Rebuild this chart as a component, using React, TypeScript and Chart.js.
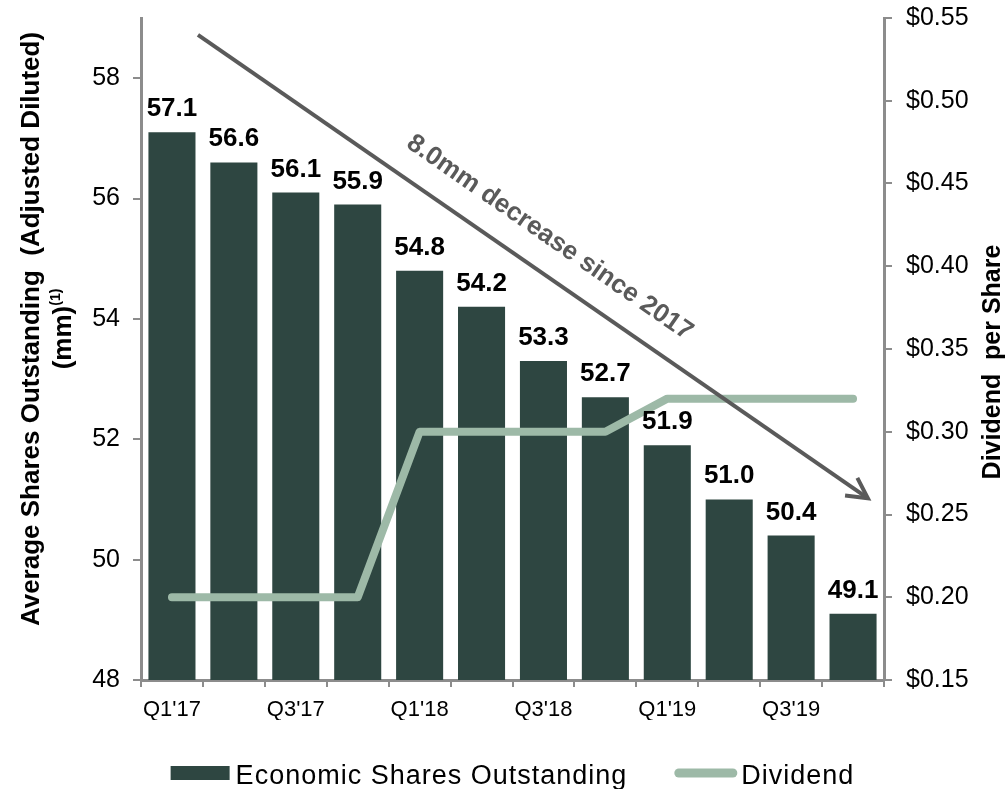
import React, { useEffect, useRef } from 'react';
import { Chart, registerables } from 'chart.js';

Chart.register(...registerables);

// ---------- data ----------
const QUARTERS = ["Q1'17", "Q2'17", "Q3'17", "Q4'17", "Q1'18", "Q2'18", "Q3'18", "Q4'18", "Q1'19", "Q2'19", "Q3'19", "Q4'19"];
const SHARES = [57.1, 56.6, 56.1, 55.9, 54.8, 54.2, 53.3, 52.7, 51.9, 51.0, 50.4, 49.1];
const DIVIDEND = [0.20, 0.20, 0.20, 0.20, 0.30, 0.30, 0.30, 0.30, 0.32, 0.32, 0.32, 0.32];
const SHARES_LABEL = 'Economic Shares Outstanding';
const DIVIDEND_LABEL = 'Dividend';
const SHARES_TICKS = { min: 48, max: 59, step: 2 };
const DIVIDEND_TICKS = { min: 0.15, max: 0.55, step: 0.05 };
const LEFT_TITLE = 'Average Shares Outstanding  (Adjusted Diluted)';
const LEFT_TITLE_2 = '(mm)';
const LEFT_TITLE_SUP = '(1)';
const RIGHT_TITLE = 'Dividend  per Share';
// arrow annotation in data units: [category index, shares value]
const ARROW_FROM = [0.42, 58.72];
const ARROW_TO = [11.24, 51.02];
const ARROW_LABEL = '8.0mm decrease since 2017';
const ARROW_LABEL_AT = [6.1, 55.35];

// ---------- styles ----------
const FONT = '"Liberation Sans", Arial, Helvetica, sans-serif';
const BAR_COLOR = '#2E4641';
const LINE_COLOR = '#9DB9A7';
const AXIS_COLOR = '#8C8C8C';
const ARROW_COLOR = '#5A5A5A';

const barLabelPlugin = {
  id: 'barLabels',
  afterDatasetsDraw(chart: any) {
    const ctx = chart.ctx;
    const meta = chart.getDatasetMeta(0);
    ctx.save();
    ctx.font = `bold 26px ${FONT}`;
    ctx.fillStyle = '#000';
    ctx.textAlign = 'center';
    ctx.textBaseline = 'alphabetic';
    meta.data.forEach((el: any, i: number) => {
      ctx.fillText(SHARES[i].toFixed(1), el.x, el.y - 16);
    });
    ctx.restore();
  },
};

const arrowPlugin = {
  id: 'arrowNote',
  afterDatasetsDraw(chart: any) {
    const ctx = chart.ctx;
    const xs = chart.scales.x;
    const ys = chart.scales.y;
    const x1 = xs.getPixelForValue(ARROW_FROM[0]);
    const y1 = ys.getPixelForValue(ARROW_FROM[1]);
    const x2 = xs.getPixelForValue(ARROW_TO[0]);
    const y2 = ys.getPixelForValue(ARROW_TO[1]);
    const ang = Math.atan2(y2 - y1, x2 - x1);
    ctx.save();
    ctx.strokeStyle = ARROW_COLOR;
    ctx.lineWidth = 4;
    ctx.lineCap = 'butt';
    ctx.beginPath();
    ctx.moveTo(x1, y1);
    ctx.lineTo(x2 - Math.cos(ang) * 2, y2 - Math.sin(ang) * 2);
    ctx.stroke();
    const head = 23;
    const spread = (28 * Math.PI) / 180;
    ctx.lineJoin = 'miter';
    ctx.beginPath();
    ctx.moveTo(x2 - head * Math.cos(ang - spread), y2 - head * Math.sin(ang - spread));
    ctx.lineTo(x2, y2);
    ctx.lineTo(x2 - head * Math.cos(ang + spread), y2 - head * Math.sin(ang + spread));
    ctx.stroke();
    const lx = xs.getPixelForValue(ARROW_LABEL_AT[0]);
    const ly = ys.getPixelForValue(ARROW_LABEL_AT[1]);
    ctx.translate(lx, ly);
    ctx.rotate(ang);
    ctx.font = `bold 26px ${FONT}`;
    ctx.fillStyle = ARROW_COLOR;
    ctx.textAlign = 'center';
    ctx.textBaseline = 'middle';
    ctx.fillText(ARROW_LABEL, 0, 0);
    ctx.restore();
  },
};

const decorPlugin = {
  id: 'decor',
  afterDraw(chart: any) {
    const ctx = chart.ctx;
    const area = chart.chartArea;
    const midY = (area.top + area.bottom) / 2;
    ctx.save();
    // left axis title
    ctx.fillStyle = '#000';
    ctx.textBaseline = 'middle';
    ctx.textAlign = 'center';
    ctx.font = `bold 26px ${FONT}`;
    ctx.save();
    ctx.translate(32, midY - 20);
    ctx.rotate(-Math.PI / 2);
    ctx.fillText(LEFT_TITLE, 0, 0);
    ctx.restore();
    ctx.save();
    ctx.translate(64, midY - 20);
    ctx.rotate(-Math.PI / 2);
    ctx.font = `bold 26px ${FONT}`;
    const w1 = ctx.measureText(LEFT_TITLE_2).width;
    ctx.font = `bold 14px ${FONT}`;
    const w2 = ctx.measureText(LEFT_TITLE_SUP).width;
    const start = -(w1 + w2) / 2;
    ctx.textAlign = 'left';
    ctx.font = `bold 26px ${FONT}`;
    ctx.fillText(LEFT_TITLE_2, start, 0);
    ctx.font = `bold 14px ${FONT}`;
    ctx.fillText(LEFT_TITLE_SUP, start + w1, -8);
    ctx.restore();
    // right axis title
    ctx.save();
    ctx.translate(993, midY + 13);
    ctx.rotate(-Math.PI / 2);
    ctx.font = `bold 25px ${FONT}`;
    ctx.textAlign = 'center';
    ctx.fillText(RIGHT_TITLE, 0, 0);
    ctx.restore();

    // legend
    const ds = chart.data.datasets;
    ctx.font = `27px ${FONT}`;
    (ctx as any).letterSpacing = '1px';
    const t1 = ctx.measureText(ds[0].label).width;
    const t2 = ctx.measureText(ds[1].label).width;
    const boxW = 59, gap1 = 6, lineW = 63, gap2 = 4, itemGap = 47;
    const total = boxW + gap1 + t1 + itemGap + lineW + gap2 + t2;
    let x = (area.left + area.right) / 2 - total / 2;
    const cy = 773;
    ctx.fillStyle = ds[0].backgroundColor;
    ctx.fillRect(x, cy - 7, boxW, 14);
    x += boxW + gap1;
    ctx.fillStyle = '#000';
    ctx.textAlign = 'left';
    ctx.textBaseline = 'alphabetic';
    ctx.fillText(ds[0].label, x, 784);
    x += t1 + itemGap;
    ctx.strokeStyle = ds[1].borderColor;
    ctx.lineWidth = 9;
    ctx.lineCap = 'round';
    ctx.beginPath();
    ctx.moveTo(x + 4.5, cy);
    ctx.lineTo(x + lineW - 4.5, cy);
    ctx.stroke();
    x += lineW + gap2;
    ctx.fillText(ds[1].label, x, 784);
    ctx.restore();
  },
};

export default function App() {
  const ref = useRef<HTMLCanvasElement | null>(null);

  useEffect(() => {
    const canvas = ref.current;
    if (!canvas) return;
    const chart = new Chart(canvas, {
      type: 'bar',
      data: {
        labels: QUARTERS,
        datasets: [
          {
            type: 'bar',
            label: SHARES_LABEL,
            data: SHARES,
            backgroundColor: BAR_COLOR,
            borderWidth: 0,
            barPercentage: 0.76,
            categoryPercentage: 1,
            yAxisID: 'y',
            order: 2,
          },
          {
            type: 'line',
            label: DIVIDEND_LABEL,
            data: DIVIDEND,
            borderColor: LINE_COLOR,
            backgroundColor: LINE_COLOR,
            borderWidth: 8,
            borderCapStyle: 'round',
            borderJoinStyle: 'round',
            pointRadius: 0,
            tension: 0,
            fill: false,
            yAxisID: 'y1',
            order: 1,
          },
        ] as any,
      },
      options: {
        responsive: false,
        devicePixelRatio: 1,
        animation: false,
        layout: { padding: { top: 18, bottom: 69, left: 0, right: 0 } },
        plugins: {
          legend: { display: false },
          tooltip: { enabled: false },
          title: { display: false },
        },
        scales: {
          x: {
            type: 'category',
            offset: true,
            grid: {
              display: true,
              drawOnChartArea: false,
              offset: true,
              tickLength: 7,
              color: AXIS_COLOR,
              lineWidth: 2,
            },
            border: { display: true, color: AXIS_COLOR, width: 3 },
            ticks: {
              autoSkip: false,
              maxRotation: 0,
              padding: 10,
              color: '#000',
              font: { family: FONT, size: 22 },
              callback: (_v: any, i: number) => (i % 2 === 0 ? QUARTERS[i] : ''),
            },
            afterFit: (s: any) => {
              s.height = 40;
              s.paddingLeft = 0;
              s.paddingRight = 0;
            },
          },
          y: {
            type: 'linear',
            position: 'left',
            min: SHARES_TICKS.min,
            max: SHARES_TICKS.max,
            grid: {
              drawOnChartArea: false,
              tickLength: 8,
              color: AXIS_COLOR,
              lineWidth: 2,
            },
            border: { display: true, color: AXIS_COLOR, width: 3 },
            ticks: {
              stepSize: SHARES_TICKS.step,
              includeBounds: false,
              padding: 13,
              color: '#000',
              font: { family: FONT, size: 25 },
            },
            afterFit: (s: any) => {
              s.width = 141;
              s.paddingTop = 0;
              s.paddingBottom = 0;
            },
          },
          y1: {
            type: 'linear',
            position: 'right',
            min: DIVIDEND_TICKS.min,
            max: DIVIDEND_TICKS.max,
            grid: {
              drawOnChartArea: false,
              tickLength: 8,
              color: AXIS_COLOR,
              lineWidth: 2,
            },
            border: { display: true, color: AXIS_COLOR, width: 3 },
            ticks: {
              stepSize: DIVIDEND_TICKS.step,
              padding: 14,
              color: '#000',
              font: { family: FONT, size: 25 },
              callback: (v: any) => '$' + Number(v).toFixed(2),
            },
            afterFit: (s: any) => {
              s.width = 121;
              s.paddingTop = 0;
              s.paddingBottom = 0;
            },
          },
        },
      } as any,
      plugins: [barLabelPlugin, arrowPlugin, decorPlugin],
    });
    return () => chart.destroy();
  }, []);

  return (
    <div style={{ position: 'absolute', left: 0, top: 0, width: 1005, height: 789, background: '#fff' }}>
      <canvas ref={ref} width={1005} height={789} style={{ display: 'block' }} />
    </div>
  );
}
